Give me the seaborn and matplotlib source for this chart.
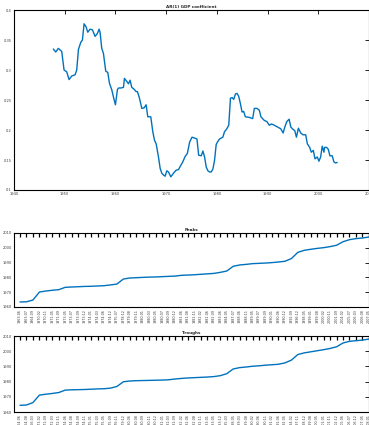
import matplotlib
matplotlib.use("Agg")
import matplotlib.pyplot as plt
import seaborn as sns
import pandas as pd
import numpy as np

# Rolling AR(1) coefficient on GDP growth
ar_years = [1947.76, 1948.22, 1948.75, 1949.41, 1949.87, 1950.39, 1950.86, 1951.38, 1952.04, 1952.37,
            1952.70, 1953.16, 1953.49, 1953.82, 1954.21, 1954.54, 1955.00, 1955.46, 1955.99, 1956.45,
            1956.78, 1956.97, 1957.30, 1957.63, 1958.09, 1958.49, 1958.82, 1959.28, 1959.61, 1960.00,
            1960.39, 1960.59, 1961.05, 1961.58, 1961.78, 1962.24, 1962.57, 1962.89, 1963.22, 1963.68,
            1964.08, 1964.34, 1964.74, 1965.20, 1965.66, 1966.05, 1966.38, 1966.97, 1967.37, 1967.70,
            1968.03, 1968.49, 1968.82, 1969.14, 1969.47, 1969.80, 1970.13, 1970.46, 1970.92, 1971.45,
            1971.97, 1972.43, 1972.89, 1973.29, 1973.75, 1974.18, 1974.64, 1975.10, 1975.49, 1976.08,
            1976.41, 1976.93, 1977.25, 1977.58, 1977.91, 1978.24, 1978.56, 1978.89, 1979.22, 1979.54,
            1979.87, 1980.20, 1980.52, 1981.18, 1981.50, 1981.96, 1982.35, 1982.68, 1983.01, 1983.33,
            1983.66, 1983.99, 1984.31, 1984.64, 1984.97, 1985.29, 1985.62, 1986.41, 1987.06, 1987.39,
            1987.91, 1988.37, 1988.69, 1989.35, 1989.87, 1990.33, 1990.78, 1991.31, 1991.96, 1992.61,
            1993.07, 1993.40, 1993.79, 1994.25, 1994.58, 1994.90, 1995.36, 1995.69, 1996.08, 1996.54,
            1996.99, 1997.52, 1997.84, 1998.30, 1998.63, 1999.02, 1999.35, 1999.80, 2000.13, 2000.46,
            2000.78, 2001.11, 2001.24, 2001.63, 2001.96, 2002.29, 2002.75, 2003.07, 2003.40, 2003.73]
ar_coef = [0.335, 0.330, 0.336, 0.331, 0.300, 0.297, 0.284, 0.290, 0.292, 0.300,
           0.334, 0.346, 0.350, 0.377, 0.372, 0.363, 0.368, 0.367, 0.356, 0.361,
           0.368, 0.363, 0.336, 0.328, 0.298, 0.296, 0.278, 0.267, 0.255, 0.242,
           0.267, 0.270, 0.270, 0.271, 0.286, 0.281, 0.277, 0.283, 0.271, 0.268,
           0.264, 0.264, 0.253, 0.236, 0.237, 0.242, 0.222, 0.222, 0.197, 0.183,
           0.177, 0.155, 0.136, 0.128, 0.125, 0.123, 0.132, 0.130, 0.122, 0.128,
           0.133, 0.134, 0.141, 0.147, 0.156, 0.161, 0.180, 0.188, 0.187, 0.185,
           0.158, 0.157, 0.165, 0.155, 0.138, 0.132, 0.130, 0.130, 0.135, 0.149,
           0.176, 0.181, 0.185, 0.188, 0.197, 0.202, 0.208, 0.253, 0.254, 0.251,
           0.260, 0.261, 0.256, 0.244, 0.230, 0.231, 0.222, 0.221, 0.219, 0.236,
           0.236, 0.233, 0.222, 0.216, 0.214, 0.208, 0.210, 0.208, 0.205, 0.202,
           0.195, 0.205, 0.214, 0.218, 0.205, 0.202, 0.199, 0.188, 0.203, 0.195,
           0.192, 0.192, 0.177, 0.171, 0.163, 0.166, 0.152, 0.155, 0.148, 0.155,
           0.173, 0.163, 0.171, 0.171, 0.168, 0.157, 0.157, 0.147, 0.145, 0.146]

# Dates of cycle peaks and troughs, sorted
peak_dates = [1963.4, 1963.5, 1964.7, 1970.1, 1970.8, 1971.3, 1971.7, 1973.3, 1973.5, 1973.7,
              1973.9, 1974.0, 1974.2, 1974.4, 1974.9, 1975.5, 1978.9, 1979.6, 1979.8, 1980.0,
              1980.2, 1980.3, 1980.5, 1980.7, 1980.9, 1981.4, 1981.6, 1981.8, 1982.1, 1982.4,
              1982.7, 1983.4, 1984.3, 1987.5, 1988.4, 1988.8, 1989.3, 1989.5, 1989.7, 1990.0,
              1990.4, 1990.9, 1992.7, 1996.9, 1998.3, 1999.0, 1999.6, 2000.1, 2000.8, 2001.7,
              2004.1, 2005.5, 2006.2, 2006.6, 2007.3]
trough_dates = [1964.4, 1964.6, 1966.2, 1971.1, 1971.7, 1972.2, 1972.8, 1974.4, 1974.6, 1974.7,
                1974.8, 1975.0, 1975.2, 1975.3, 1975.7, 1976.8, 1979.9, 1980.4, 1980.6, 1980.7,
                1980.8, 1980.9, 1981.0, 1981.2, 1981.7, 1982.1, 1982.4, 1982.6, 1982.8, 1983.0,
                1983.3, 1983.9, 1985.2, 1988.3, 1989.2, 1989.6, 1990.1, 1990.4, 1990.8, 1991.1,
                1991.4, 1992.3, 1994.1, 1997.8, 1998.9, 1999.6, 2000.3, 2001.0, 2001.8, 2002.9,
                2005.4, 2006.5, 2006.9, 2007.3, 2008.0]

ar_xticks = [1940, 1950, 1960, 1970, 1980, 1990, 2000, 2010]
ar_yticks = [0.1, 0.15, 0.2, 0.25, 0.3, 0.35, 0.4]
date_yticks = [1960, 1970, 1980, 1990, 2000, 2010]


def date_label(v):
    year = int(np.floor(v))
    month = int(round((v - year) * 12)) + 1
    month = min(month, 12)
    return f"{year}:{month:02d}"


sns.set_style("white")
plt.rcParams["font.family"] = ["DejaVu Sans"]

BLUE = "#0072BD"
TICKC = "#404040"

fig = plt.figure(figsize=(3.69, 4.25), dpi=100)
W, H = 369.0, 425.0


def add_axes(left, top, right, bottom):
    return fig.add_axes([left / W, 1 - bottom / H, (right - left) / W, (bottom - top) / H])


def style(ax, length=2.6):
    for s in ax.spines.values():
        s.set_visible(True)
        s.set_color("black")
        s.set_linewidth(0.8)
    ax.tick_params(direction="in", top=True, right=True, length=length, width=0.6,
                   color="black", labelcolor=TICKC, labelsize=2.6, pad=1.5)
    ax.set_xlabel("")
    ax.set_ylabel("")
    ax.grid(False)


# Top panel: AR(1) coefficient
ax1 = add_axes(14, 10, 369, 190)
df_ar = pd.DataFrame({"year": ar_years, "coef": ar_coef})
sns.lineplot(data=df_ar, x="year", y="coef", ax=ax1, color=BLUE, lw=1.0,
             estimator=None, sort=False)
ax1.set_xlim(1940, 2010)
ax1.set_ylim(0.1, 0.4)
ax1.set_xticks(ar_xticks)
ax1.set_xticklabels([str(t) for t in ar_xticks])
ax1.set_yticks(ar_yticks)
ax1.set_yticklabels([f"{t:g}" for t in ar_yticks])
style(ax1)
ax1.set_title("AR(1) GDP coefficient", fontsize=3.0, fontweight="bold", pad=1.5)


def date_panel(top, bottom, dates, title):
    ax = add_axes(14, top, 369, bottom)
    idx = np.arange(len(dates))
    df = pd.DataFrame({"idx": idx, "date": dates})
    sns.lineplot(data=df, x="idx", y="date", ax=ax, color=BLUE, lw=1.0,
                 estimator=None, sort=False)
    ax.set_xlim(-0.93, len(dates) - 1 + 0.02)
    ax.set_ylim(1960, 2010)
    ax.set_xticks(idx)
    ax.set_xticklabels([date_label(d) for d in dates], rotation=90)
    ax.set_yticks(date_yticks)
    ax.set_yticklabels([str(t) for t in date_yticks])
    style(ax, length=2.6)
    ax.tick_params(axis="x", width=0.9, labelsize=2.4)
    ax.set_title(title, fontsize=3.0, fontweight="bold", pad=1.5)
    return ax


date_panel(233, 307, peak_dates, "Peaks")
date_panel(336, 412, trough_dates, "Troughs")

fig.savefig("out.png", dpi=100)
